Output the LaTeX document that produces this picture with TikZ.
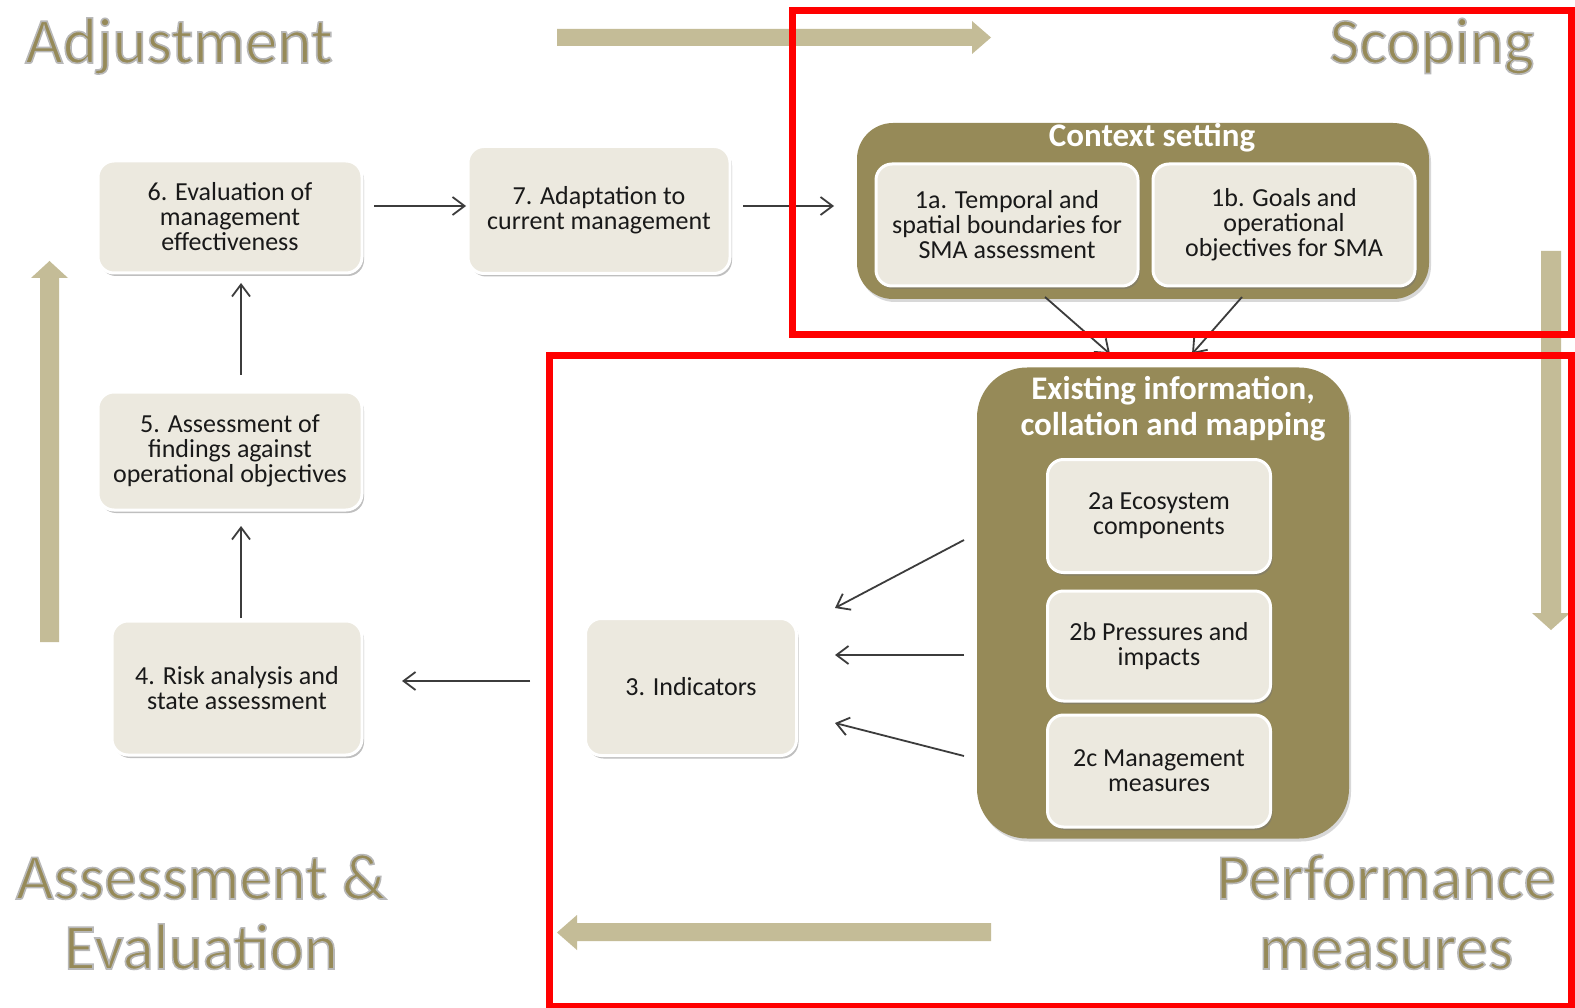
\documentclass[tikz,border=0pt]{standalone}
\usepackage{fontspec}
\setmainfont{Carlito}
\usepackage{tikz}
\usetikzlibrary{arrows.meta,shadows}

\definecolor{boxfill}{HTML}{ECE9DF}
\definecolor{groupfill}{HTML}{968A58}
\definecolor{bandfill}{HTML}{C4BC97}
\definecolor{linegray}{HTML}{3C3C3C}
\definecolor{framered}{HTML}{FF0000}

% outlined phase lettering (fill + light stroke)
\newcommand{\phaseword}[1]{{\color{groupfill}\special{pdf:literal direct 2 Tr 1.6 w 0.72 0.72 0.72 RG}#1\special{pdf:literal direct 0 Tr}}}

\begin{document}
\begin{tikzpicture}[x=1pt,y=-1pt,>={Straight Barb[length=12pt,width=18pt]},
    main node/.style={rounded corners=16pt,fill=boxfill,draw=white,line width=3pt,
      drop shadow={shadow xshift=2pt,shadow yshift=-3pt,opacity=.45,fill=black!55},
      align=center,inner sep=0pt,font=\fontsize{26}{25}\selectfont,text=black!90},
    group node/.style={rounded corners=36pt,fill=groupfill,draw=none,
      drop shadow={shadow xshift=2pt,shadow yshift=-3pt,opacity=.3}},
    group title/.style={align=center,text=white,font=\fontsize{33}{36}\selectfont\bfseries},
    phase/.style={align=center,font=\fontsize{65}{70}\selectfont},
    flow/.style={->,color=linegray,line width=1.8pt},
    band/.style={fill=bandfill},
    red frame/.style={draw=framered,line width=7pt}]

  \useasboundingbox (0,0) rectangle (1575,1008);
  \fill[white] (0,0) rectangle (1575,1008);

  % big phase arrows
  \fill[band] (557,29) -- (972,29) -- (972,21) -- (991,37.5) -- (972,54) -- (972,46) -- (557,46) -- cycle;
  \fill[band] (1541,251) -- (1561,251) -- (1561,613) -- (1570,613) -- (1551,630) -- (1532,613) -- (1541,613) -- cycle;
  \fill[band] (991,923) -- (577,923) -- (577,915) -- (557,932.5) -- (577,950) -- (577,941) -- (991,941) -- cycle;
  \fill[band] (40,642) -- (40,278) -- (31,278) -- (49.5,261) -- (68,278) -- (59,278) -- (59,642) -- cycle;

  \node[phase,anchor=base] (adj) at (179,63) {\phaseword{Adjustment}};
  \node[phase,anchor=base] (sco) at (1432,63) {\phaseword{Scoping}};
  \node[phase,anchor=base] (ass) at (201,969) {\phaseword{Assessment \&}\\\phaseword{Evaluation}};
  \node[phase,anchor=base] (per) at (1386,969) {\phaseword{Performance}\\\phaseword{measures}};

  % groups
  \node[group node,minimum width=572pt,minimum height=176pt] (C) at (1143,211) {};
  \node[group title] (Ct) at (1152,138) {Context setting};
  \node[group node,rounded corners=50pt,minimum width=372pt,minimum height=471pt] (E) at (1163,603) {};
  \node[group title] (Et) at (1173,409) {Existing information,\\collation and mapping};

  % steps
  \node[main node,minimum width=262pt,minimum height=122pt] (1a) at (1007,225) {1a. Temporal and\\spatial boundaries for\\SMA assessment};
  \node[main node,minimum width=262pt,minimum height=122pt] (1b) at (1284,225) {1b. Goals and\\operational\\objectives for SMA};
  \node[main node,minimum width=223pt,minimum height=113pt] (2a) at (1159,516) {2a Ecosystem\\components};
  \node[main node,minimum width=223pt,minimum height=110pt] (2b) at (1159,646) {2b Pressures and\\impacts};
  \node[main node,minimum width=223pt,minimum height=112pt] (2c) at (1159,771) {2c Management\\measures};
  \node[main node,minimum width=211pt,minimum height=137pt] (3) at (691,687) {3. Indicators};
  \node[main node,minimum width=250pt,minimum height=134pt] (4) at (237,688) {4. Risk analysis and\\state assessment};
  \node[main node,minimum width=264pt,minimum height=118pt] (5) at (230,451) {5. Assessment of\\findings against\\operational objectives};
  \node[main node,minimum width=264pt,minimum height=112pt] (6) at (230,217) {6. Evaluation of\\management\\effectiveness};
  \node[main node,minimum width=262pt,minimum height=127pt] (7) at (599,210) {7. Adaptation to\\current management};

  % arrow ends
  \coordinate (6o) at (374,206);  \coordinate (7i) at (466,206);
  \coordinate (7o) at (743,206);  \coordinate (Ci) at (834,206);
  \coordinate (1ao) at (1045,297); \coordinate (Ea) at (1110,354);
  \coordinate (1bo) at (1242,297); \coordinate (Eb) at (1192,354);
  \coordinate (2ao) at (964,540); \coordinate (3a) at (835,608);
  \coordinate (2bo) at (964,655); \coordinate (3b) at (835,655);
  \coordinate (2co) at (964,756); \coordinate (3c) at (835,723);
  \coordinate (3o) at (530,681);  \coordinate (4i) at (402,681);
  \coordinate (4o) at (241,618);  \coordinate (5i) at (241,526);
  \coordinate (5o) at (241,375);  \coordinate (6i) at (241,283);

  \path[flow]
    (6o) edge (7i)
    (7o) edge (Ci)
    (1ao) edge (Ea)
    (1bo) edge (Eb)
    (2ao) edge (3a)
    (2bo) edge (3b)
    (2co) edge (3c)
    (3o) edge (4i)
    (4o) edge (5i)
    (5o) edge (6i);

  % highlighted regions
  \draw[red frame] (792,11) rectangle (1571,335);
  \draw[red frame] (549,356) rectangle (1571,1006);
\end{tikzpicture}
\end{document}
